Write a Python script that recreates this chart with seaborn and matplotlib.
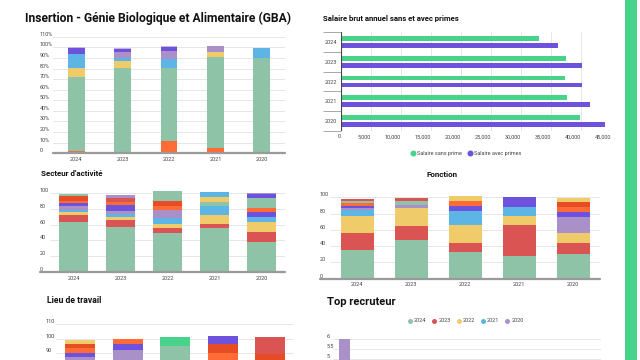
import numpy as np
import pandas as pd
import matplotlib
matplotlib.use("Agg")
import matplotlib.pyplot as plt
from matplotlib.lines import Line2D
from matplotlib.patches import Rectangle
import seaborn as sns

sns.set_theme(style="white")
plt.rcParams['font.family'] = ['Roboto', 'DejaVu Sans']

# ---------------- data ----------------
years = ['2024', '2023', '2022', '2021', '2020']

# Insertion (%)
ins_orange = [2.5, 0, 12.0, 5.0, 0]
ins_green = [69.5, 80.5, 68.5, 86.0, 90.0]
ins_yellow = [8.8, 6.5, 0, 4.6, 0]
ins_blue = [12.9, 3.0, 8.5, 0, 9.3]
ins_lavender = [0, 5.6, 7.5, 5.4, 0]
ins_purple = [5.6, 2.8, 4.1, 0, 0]
ins_lavender2 = [0.7, 0.9, 0.9, 0, 0]
ins_ticks = ['0', '10%', '20%', '30%', '40%', '50%', '60%', '70%', '80%', '90%', '100%', '110%']

# Salaire brut annuel
sal_sans_prime = [33000, 37600, 37400, 37700, 39900]
sal_avec_primes = [36200, 40200, 40200, 41600, 44100]
sal_labels = ['Salaire sans prime', 'Salaire avec primes']

# Secteur d'activité (series in stacking order)
sec_s01 = [63.5, 57.4, 49.8, 55.3, 37.7]
sec_s02 = [8.5, 8.4, 5.5, 5.9, 13.0]
sec_s03 = [3.5, 3.8, 5.9, 10.8, 12.6]
sec_s04 = [2.5, 3.7, 6.7, 11.4, 6.3]
sec_s05 = [5.5, 3.8, 10.1, 0, 0]
sec_s06 = [3.6, 7.6, 0, 0, 5.9]
sec_s07 = [2.7, 3.3, 5.8, 0, 5.8]
sec_s08 = [6.5, 0, 6.2, 0, 0]
sec_s09 = [2.7, 0, 11.9, 5.1, 11.7]
sec_s10 = [0, 5.0, 0, 0, 0]
sec_s11 = [0, 0, 0, 6.2, 0]
sec_s12 = [0, 0, 0, 5.9, 0]
sec_s13 = [0, 0, 0, 0, 5.5]
sec_s14 = [0, 4.2, 0, 0, 1.2]

# Fonction
fon_s01 = [35.1, 47.4, 32.3, 27.7, 30.5]
fon_s02 = [21.3, 17.3, 11.4, 38.6, 13.2]
fon_s03 = [21.0, 22.1, 22.2, 10.7, 12.7]
fon_s04 = [7.0, 0, 17.2, 11.5, 0]
fon_s05 = [2.4, 4.1, 0, 0, 19.3]
fon_s06 = [2.5, 0, 5.8, 11.9, 6.6]
fon_s07 = [4.1, 0, 6.5, 0, 5.7]
fon_s08 = [0, 0, 0, 0, 5.9]
fon_s09 = [2.5, 4.5, 0, 0, 0]
fon_s10 = [2.4, 3.3, 0, 0, 0]
fon_s11 = [0, 0, 6.2, 0, 5.2]

# Lieu de travail
lieu_s01 = [45, 50, 94.9, 40, 45]
lieu_s02 = [15, 20, 0, 25, 20]
lieu_s03 = [12, 10, 0, 15, 10]
lieu_s04 = [8, 0, 0, 0, 0]
lieu_s05 = [7.1, 11.9, 0, 0, 0]
lieu_s06 = [3.2, 4.2, 0, 0, 0]
lieu_s07 = [3.0, 3.7, 0, 10.3, 0]
lieu_s08 = [2.8, 0, 0, 5.8, 14.6]
lieu_s09 = [0, 0, 6.5, 0, 0]
lieu_s10 = [0, 0, 0, 0, 11.8]
lieu_s11 = [3.0, 0, 0, 0, 0]
lieu_s12 = [0, 0, 0, 6.0, 0]
lieu_ticks = [90, 100, 110]

# Top recruteur (stacked by year)
tr_companies = ['E1', 'E2', 'E3', 'E4', 'E5', 'E6', 'E7', 'E8', 'E9', 'E10', 'E11', 'E12']
tr_2024 = [1, 1, 1, 1, 1, 1, 0, 1, 0, 1, 0, 1]
tr_2023 = [1, 1, 1, 0, 1, 0, 1, 0, 1, 0, 1, 0]
tr_2022 = [1, 1, 0, 1, 0, 1, 0, 1, 0, 1, 0, 1]
tr_2021 = [1, 0, 1, 1, 0, 1, 1, 0, 1, 0, 1, 0]
tr_2020 = [2, 1, 1, 0, 1, 0, 0, 0, 0, 0, 0, 0]
tr_ticks = [5, 5.5, 6]

# ---------------- colours ----------------
C_G = '#8ec3a7'
C_R = '#db5454'
C_Y = '#f0cb69'
C_B = '#5db5e5'
C_L = '#aa90c8'
C_P = '#6c52dc'
C_O = '#ff6b35'
C_DO = '#e64d24'
C_BG = '#48d38a'
C_LL = '#c6b6dc'
TXT = '#444444'
GRID = '#e6e6e6'
BASE = '#9a9a9a'

W, H = 640, 360
fig = plt.figure(figsize=(6.4, 3.6), dpi=100)
fig.patch.set_facecolor('white')


def add_ax(x0, y0, x1, y1):
    ax = fig.add_axes([x0 / W, 1 - y1 / H, (x1 - x0) / W, (y1 - y0) / H])
    ax.set_facecolor('none')
    for s in ax.spines.values():
        s.set_visible(False)
    return ax


def stacked(ax, cats, series, width):
    bottom = np.zeros(len(cats))
    for vals, col in series:
        vals = np.asarray(vals, float)
        sns.barplot(x=cats, y=vals, order=cats, bottom=bottom, color=col,
                    width=width, saturation=1, linewidth=0, errorbar=None, ax=ax)
        bottom = bottom + vals


def style_vertical(ax, yticks, ylabels, ylim, pad_px, base_from_px=None, ax_left_px=None,
                   ax_width_px=None, fs=4, baseline=True):
    ax.set_ylim(*ylim)
    ax.set_xlim(-0.5, len(years) - 0.5)
    ax.set_yticks(yticks)
    ax.set_yticklabels(ylabels)
    ax.tick_params(axis='y', length=0, pad=pad_px * 0.72, labelsize=fs, labelcolor=TXT)
    ax.tick_params(axis='x', length=0, pad=2.5, labelsize=fs, labelcolor=TXT)
    for lbl in ax.get_yticklabels():
        lbl.set_horizontalalignment('left')
        lbl.set_verticalalignment('bottom')
    for t in yticks:
        if t != 0:
            ax.axhline(t, color=GRID, lw=0.7, zorder=0)
    if baseline:
        xmin = 0
        if base_from_px is not None:
            xmin = (base_from_px - ax_left_px) / ax_width_px
        ax.axhline(0, xmin=xmin, xmax=1, color=BASE, lw=1.6, zorder=5, clip_on=False)
    ax.set_xlabel('')
    ax.set_ylabel('')


# ---------------- 1. Insertion ----------------
fig.text(25 / W, 1 - 18 / H, 'Insertion - Génie Biologique et Alimentaire (GBA)',
         fontsize=8.75, fontweight='bold', color='#111111', ha='left', va='center')
ax1 = add_ax(53, 36.7, 285, 153.3)
stacked(ax1, years, [(ins_orange, C_O), (ins_green, C_G), (ins_yellow, C_Y),
                     (ins_blue, C_B), (ins_lavender, C_L), (ins_purple, C_P),
                     (ins_lavender2, C_LL)], 0.366)
style_vertical(ax1, list(range(0, 111, 10)), ins_ticks, (0, 110), 13)

# ---------------- 2. Salaire ----------------
fig.text(323 / W, 1 - 18 / H, 'Salaire brut annuel sans et avec primes',
         fontsize=5.6, fontweight='bold', color='#111111', ha='left', va='center')
ax2 = add_ax(340.7, 32.3, 610.7, 130.7)
sal_df = pd.DataFrame({
    'year': years * 2,
    'type': [sal_labels[0]] * 5 + [sal_labels[1]] * 5,
    'value': sal_sans_prime + sal_avec_primes,
})
sns.barplot(data=sal_df, x='value', y='year', hue='type', order=years, hue_order=sal_labels,
            palette=[C_BG, C_P], orient='h', width=0.68, gap=0.3, saturation=1,
            linewidth=0, errorbar=None, legend=False, ax=ax2)
ax2.set_xlim(0, 45000)
ax2.set_ylim(4.5, -0.5)
xt = list(range(0, 45001, 5000))
ax2.set_xticks(xt)
ax2.set_xticklabels(['0'] + [f'{v:,}' for v in xt[1:]])
for lbl in ax2.get_xticklabels():
    lbl.set_horizontalalignment('right')
ax2.tick_params(axis='x', length=0, pad=2.5, labelsize=4, labelcolor=TXT)
ax2.tick_params(axis='y', which='major', length=0, pad=2.7, labelsize=4, labelcolor=TXT)
ax2.set_yticks(np.arange(-0.5, 5, 1.0), minor=True)
ax2.tick_params(axis='y', which='minor', length=13, width=0.6, color='#9a9a9a', left=True)
for v in xt[1:]:
    ax2.axvline(v, color=GRID, lw=0.7, zorder=0)
ax2.axvline(0, color='#444444', lw=0.8, zorder=5)
ax2.set_xlabel('')
ax2.set_ylabel('')
sal_handles = [Line2D([], [], marker='o', ls='', markersize=4.3, color=c, markeredgewidth=0)
               for c in (C_BG, C_P)]
fig.legend(sal_handles, sal_labels, loc='center', bbox_to_anchor=(466 / W, 1 - 153 / H),
           ncol=2, frameon=False, fontsize=4, handlelength=0.8, handletextpad=0.4,
           columnspacing=1.0, labelcolor=TXT)

# ---------------- 3. Secteur d'activité ----------------
fig.text(41 / W, 1 - 173.7 / H, "Secteur d'activité", fontsize=5.8, fontweight='bold',
         color='#111111', ha='left', va='center')
ax3 = add_ax(50, 190.4, 285, 272.3)
sec_colors = [C_G, C_R, C_Y, C_B, C_L, C_P, C_O, C_DO, C_G, C_R, C_Y, C_B, C_P, C_L]
sec_series = [sec_s01, sec_s02, sec_s03, sec_s04, sec_s05, sec_s06, sec_s07,
              sec_s08, sec_s09, sec_s10, sec_s11, sec_s12, sec_s13, sec_s14]
stacked(ax3, years, list(zip(sec_series, sec_colors)), 0.61)
style_vertical(ax3, [0, 20, 40, 60, 80, 100], ['0', '20', '40', '60', '80', '100'],
               (0, 103), 10, base_from_px=40, ax_left_px=50, ax_width_px=235)

# ---------------- 4. Fonction ----------------
fig.text(441.7 / W, 1 - 174 / H, 'Fonction', fontsize=5.8, fontweight='bold',
         color='#111111', ha='center', va='center')
ax4 = add_ax(330.3, 194.9, 600.3, 278.5)
fon_colors = [C_G, C_R, C_Y, C_B, C_L, C_P, C_O, C_DO, C_G, C_R, C_Y]
fon_series = [fon_s01, fon_s02, fon_s03, fon_s04, fon_s05, fon_s06, fon_s07,
              fon_s08, fon_s09, fon_s10, fon_s11]
stacked(ax4, years, list(zip(fon_series, fon_colors)), 0.62)
style_vertical(ax4, [0, 20, 40, 60, 80, 100], ['0', '20', '40', '60', '80', '100'],
               (0, 103), 10.3, base_from_px=320, ax_left_px=330.3, ax_width_px=270)

# ---------------- 5. Lieu de travail ----------------
fig.text(46.7 / W, 1 - 300.5 / H, 'Lieu de travail', fontsize=6.2, fontweight='bold',
         color='#111111', ha='left', va='center')
ax5 = add_ax(56.2, 324.3, 294.2, 482.7)
lieu_colors = [C_G, C_R, C_Y, C_B, C_L, C_P, C_O, C_DO, C_BG, C_R, C_Y, C_P]
lieu_series = [lieu_s01, lieu_s02, lieu_s03, lieu_s04, lieu_s05, lieu_s06, lieu_s07,
               lieu_s08, lieu_s09, lieu_s10, lieu_s11, lieu_s12]
stacked(ax5, years, list(zip(lieu_series, lieu_colors)), 0.63)
style_vertical(ax5, lieu_ticks, [str(v) for v in lieu_ticks], (0, 110), 10.2,
               baseline=False)
ax5.set_xticks([])   # x labels lie below the visible canvas

# ---------------- 6. Top recruteur ----------------
fig.text(326.7 / W, 1 - 301.7 / H, 'Top recruteur', fontsize=8, fontweight='bold',
         color='#111111', ha='left', va='center')
ax6 = add_ax(333, 339.3, 601, 457)
tr_series = [(tr_2024, C_G), (tr_2023, C_R), (tr_2022, C_Y), (tr_2021, C_B), (tr_2020, C_L)]
bottom = np.zeros(len(tr_companies))
for vals, col in tr_series:
    vals = np.asarray(vals, float)
    sns.barplot(x=tr_companies, y=vals, order=tr_companies, bottom=bottom, color=col,
                width=0.5, saturation=1, linewidth=0, errorbar=None, ax=ax6)
    bottom = bottom + vals
ax6.set_ylim(0, 6)
ax6.set_xlim(-0.5, len(tr_companies) - 0.5)
ax6.set_yticks(tr_ticks)
ax6.set_yticklabels([(f'{v:g}').replace('.', ',') for v in tr_ticks])
ax6.tick_params(axis='y', length=0, pad=6.3 * 0.72, labelsize=4, labelcolor=TXT)
for lbl in ax6.get_yticklabels():
    lbl.set_horizontalalignment('left')
    lbl.set_verticalalignment('bottom')
for t in tr_ticks:
    ax6.axhline(t, color=GRID, lw=0.7, zorder=0)
ax6.set_xticks([])
ax6.set_xlabel('')
ax6.set_ylabel('')
tr_handles = [Line2D([], [], marker='o', ls='', markersize=3.6, color=c, markeredgewidth=0)
              for _, c in tr_series]
fig.legend(tr_handles, years, loc='center', bbox_to_anchor=(465.8 / W, 1 - 321 / H),
           ncol=5, frameon=False, fontsize=4, handlelength=0.7, handletextpad=0.35,
           columnspacing=1.1, labelcolor=TXT)

# ---------------- right green band ----------------
fig.patches.append(Rectangle((625 / W, 0), 12 / W, 1, transform=fig.transFigure,
                             facecolor=C_BG, edgecolor='none', zorder=10))

fig.savefig('out.png', dpi=100, facecolor='white')
